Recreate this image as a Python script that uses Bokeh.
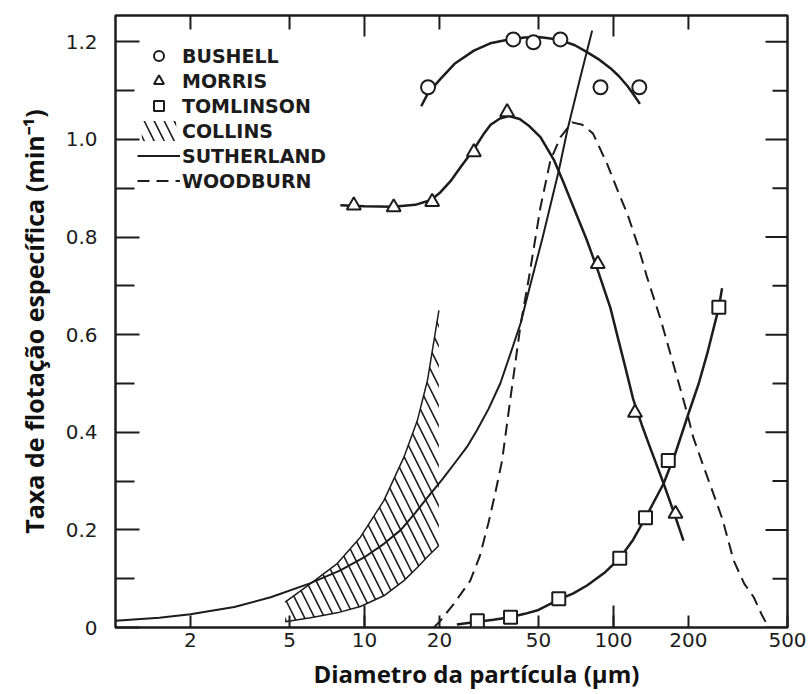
import math
from bokeh.plotting import figure
from bokeh.models import (FixedTicker, Legend, LegendItem, Title, CustomJSTickFormatter, Range1d)
from bokeh.embed import file_html
from bokeh.resources import INLINE

# ---------------- data ----------------
x_ticks = [2, 5, 10, 20, 50, 100, 200, 500]
x_decades = [10, 100]
y_ticks = [0, 0.2, 0.4, 0.6, 0.8, 1.0, 1.2]
y_minor = [0.1, 0.3, 0.5, 0.7, 0.9, 1.1]

bushell_x = [18, 39.6, 47.7, 61.2, 88.7, 127]
bushell_y = [1.107, 1.205, 1.199, 1.205, 1.107, 1.107]
bushell_fit_x = [16.9, 18, 20.2, 23, 27.5, 32, 38, 44, 50, 60, 70, 78.3, 88, 97.2, 105, 113.6, 120, 127.7]
bushell_fit_y = [1.068, 1.095, 1.124, 1.155, 1.182, 1.197, 1.205, 1.209, 1.21, 1.205, 1.193, 1.179, 1.163, 1.146, 1.13, 1.11, 1.093, 1.073]

morris_x = [9.06, 13.1, 18.7, 27.5, 37.4, 86.5, 122, 177.5]
morris_y = [0.865, 0.861, 0.872, 0.974, 1.056, 0.745, 0.44, 0.233]
morris_fit_x = [8, 10, 13, 16, 18.5, 20.2, 22.2, 24.3, 27.5, 30, 32.1, 35, 38, 42, 46, 50.9, 57.8, 63, 69.1, 78, 86.1,
                97.2, 104, 112, 120, 130, 140, 159, 177, 191]
morris_fit_y = [0.865, 0.863, 0.862, 0.866, 0.876, 0.892, 0.915, 0.943, 0.98, 1.01, 1.03, 1.043, 1.048, 1.042, 1.027,
                1.005, 0.957, 0.912, 0.861, 0.795, 0.735, 0.655, 0.595, 0.53, 0.468, 0.415, 0.37, 0.295, 0.228, 0.178]

tomlinson_x = [28.4, 38.6, 60.3, 106, 134.5, 166, 265]
tomlinson_y = [0.014, 0.021, 0.059, 0.142, 0.225, 0.342, 0.656]
tomlinson_fit_x = [23.5, 28.4, 33, 38.6, 44, 50, 60.3, 69, 78.3, 92, 106, 120, 134.5, 159, 177, 200, 220, 238, 265, 273]
tomlinson_fit_y = [0.006, 0.012, 0.016, 0.021, 0.028, 0.036, 0.057, 0.07, 0.086, 0.112, 0.142, 0.18, 0.225, 0.295,
                   0.356, 0.438, 0.5, 0.561, 0.656, 0.695]

collins_x = [4.8, 6.07, 7.77, 9.63, 11.96, 14.4, 16.3, 17.9, 19.9]
collins_low = [0.012, 0.02, 0.03, 0.043, 0.065, 0.096, 0.123, 0.145, 0.168]
collins_high = [0.052, 0.09, 0.131, 0.185, 0.26, 0.349, 0.424, 0.506, 0.65]

sutherland_x = [1, 1.5, 2, 3, 4.2, 6, 8, 10, 12, 14, 16, 18.4, 20.5, 22.9, 25.8, 28.3, 31.5, 35.1, 38.5, 42.4,
                45.7, 52, 60.3, 65.2, 73, 82.1]
sutherland_y = [0.014, 0.02, 0.027, 0.042, 0.062, 0.09, 0.117, 0.144, 0.172, 0.2, 0.235, 0.274, 0.303, 0.335,
                0.37, 0.404, 0.448, 0.5, 0.56, 0.624, 0.69, 0.8, 0.936, 1.018, 1.12, 1.223]

woodburn_x = [19, 20.2, 22.8, 26.6, 29, 31.5, 33.5, 35.7, 39.1, 42.4, 45.7, 50.9, 55.8, 61.3, 68.2, 75, 82.8,
              94.3, 104, 113.6, 125, 136, 155, 175, 198, 209, 230, 250, 274, 304, 335, 366, 395, 416, 425]
woodburn_y = [0.0, 0.014, 0.048, 0.096, 0.145, 0.215, 0.275, 0.342, 0.492, 0.622, 0.715, 0.861, 0.957, 1.005,
              1.035, 1.03, 1.012, 0.95, 0.895, 0.848, 0.785, 0.72, 0.63, 0.535, 0.438, 0.39, 0.33, 0.279, 0.222,
              0.137, 0.09, 0.062, 0.025, 0.004, 0.0]

legend_labels = ["BUSHELL", "MORRIS", "TOMLINSON", "COLLINS", "SUTHERLAND", "WOODBURN"]

x_title = "Diametro da partícula (µm)"
y_title = "Taxa de flotação específica (min⁻¹)"

# ---------------- figure ----------------
INK = "#1c1c1c"
TICK_FONT = "DejaVu Sans"
X0, X1, Y0, Y1 = 1, 500, 0, 1.254

p = figure(width=812, height=694, x_axis_type="log",
           x_range=Range1d(X0, X1), y_range=Range1d(Y0, Y1),
           output_backend="svg", toolbar_location=None,
           min_border_left=115, min_border_right=25, min_border_top=15, min_border_bottom=67)
p.xgrid.visible = False
p.ygrid.visible = False
p.outline_line_color = INK
p.outline_line_width = 2.5
p.background_fill_color = "white"
p.border_fill_color = "white"

def style_ticks(ax, maj_in, min_in):
    ax.major_tick_in = maj_in
    ax.major_tick_out = 0
    ax.minor_tick_in = min_in
    ax.minor_tick_out = 0
    ax.major_tick_line_color = INK
    ax.minor_tick_line_color = INK
    ax.major_tick_line_width = 2
    ax.minor_tick_line_width = 2
    ax.axis_line_color = None

# bottom axis
xa = p.xaxis[0]
xa.ticker = FixedTicker(ticks=x_ticks, minor_ticks=x_decades)
xa.formatter = CustomJSTickFormatter(code="return String(Math.round(tick))")
style_ticks(xa, 12, 22)
xa.major_label_text_font = TICK_FONT
xa.major_label_text_font_size = "20px"
xa.major_label_text_color = INK
xa.major_label_standoff = 5

# left axis
ya = p.yaxis[0]
ya.ticker = FixedTicker(ticks=y_ticks, minor_ticks=y_minor)
ya.formatter = CustomJSTickFormatter(code="return tick < 1e-9 ? '0' : tick.toFixed(1)")
style_ticks(ya, 24, 19)
ya.major_label_text_font = TICK_FONT
ya.major_label_text_font_size = "20px"
ya.major_label_text_color = INK
ya.major_label_standoff = 18
ya.axis_label = y_title
ya.axis_label_text_font = "Open Sans"
ya.axis_label_text_font_style = "bold"
ya.axis_label_text_font_size = "25px"
ya.axis_label_text_color = "#111111"
ya.axis_label_standoff = 12

# inward ticks on the top and right frame edges (no labels there)
top_short = [t for t in x_ticks[:-1] if t not in x_decades]
p.ray(x=top_short, y=[Y1] * len(top_short), length=14, angle=-math.pi / 2,
      length_units="screen", line_color=INK, line_width=2)
p.ray(x=x_decades, y=[Y1] * len(x_decades), length=21, angle=-math.pi / 2,
      length_units="screen", line_color=INK, line_width=2)
p.ray(x=[X1] * len(y_ticks), y=y_ticks, length=22, angle=math.pi,
      length_units="screen", line_color=INK, line_width=2)
p.ray(x=[X1] * len(y_minor), y=y_minor, length=15, angle=math.pi,
      length_units="screen", line_color=INK, line_width=2)

# x title below the axis
p.add_layout(Title(text=x_title, align="left", offset=198, text_font="Open Sans",
                   text_font_style="bold", text_font_size="24px", text_color="#111111",
                   standoff=10), "below")

# ---------------- data marks ----------------
coll = p.varea(x=collins_x, y1=collins_low, y2=collins_high, fill_color=None, fill_alpha=0,
               hatch_pattern="\\", hatch_color=INK, hatch_weight=1.6, hatch_scale=20)
p.line(collins_x, collins_high, line_color=INK, line_width=1.5)
p.line(collins_x, collins_low, line_color=INK, line_width=1.5)

suth = p.line(sutherland_x, sutherland_y, line_color=INK, line_width=2, line_join="round")
wood = p.line(woodburn_x, woodburn_y, line_color=INK, line_width=2, line_dash="12 7", line_join="round")

p.line(bushell_fit_x, bushell_fit_y, line_color=INK, line_width=2.5, line_join="round")
p.line(morris_fit_x, morris_fit_y, line_color=INK, line_width=2.5, line_join="round")
p.line(tomlinson_fit_x, tomlinson_fit_y, line_color=INK, line_width=2.5, line_join="round")

bush = p.scatter(bushell_x, bushell_y, marker="circle", size=14, fill_color="white",
                 line_color=INK, line_width=2)
morr = p.scatter(morris_x, morris_y, marker="triangle", size=14, fill_color="white",
                 line_color=INK, line_width=2)
toml = p.scatter(tomlinson_x, tomlinson_y, marker="square", size=13, fill_color="white",
                 line_color=INK, line_width=2)

legend = Legend(items=[
    LegendItem(label=legend_labels[0], renderers=[bush]),
    LegendItem(label=legend_labels[1], renderers=[morr]),
    LegendItem(label=legend_labels[2], renderers=[toml]),
    LegendItem(label=legend_labels[3], renderers=[coll]),
    LegendItem(label=legend_labels[4], renderers=[suth]),
    LegendItem(label=legend_labels[5], renderers=[wood]),
], location=(22, 434), margin=0, padding=0, spacing=0,
   glyph_width=43, glyph_height=25, label_height=25, label_standoff=2,
   label_text_font=TICK_FONT, label_text_font_style="bold", label_text_font_size="19px",
   label_text_color=INK, border_line_color=None, background_fill_alpha=0)
p.add_layout(legend, "center")

open("out.html", "w").write(file_html(p, INLINE))
